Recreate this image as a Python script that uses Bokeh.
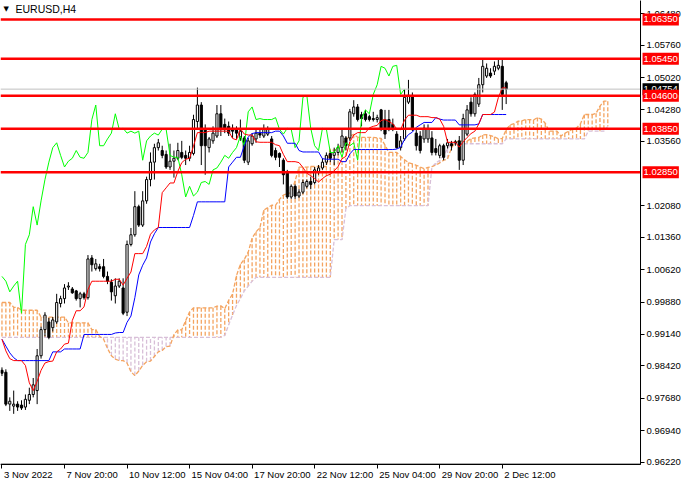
from bokeh.plotting import figure
from bokeh.models import Range1d, Label, FixedTicker, ColumnDataSource, NumeralTickFormatter
from bokeh.embed import file_html
from bokeh.resources import INLINE

# ---------------- data (EURUSD H4, bar 0 = 3 Nov 2022 04:00) ----------------
opens = [0.98321, 0.98276, 0.97546, 0.97501, 0.97546, 0.97524, 0.97479, 0.97634, 0.97767, 0.97856,
         0.98653, 0.99251, 0.99428, 0.99295, 0.99428, 0.99849, 0.99960, 1.00226, 1.00181, 1.00137,
         0.99960, 1.00070, 0.99982, 1.00890, 1.00646, 1.00691, 1.00691, 1.00469, 1.00336, 1.00026,
         1.00248, 1.00204, 0.99649, 1.01200, 1.01422, 1.02064, 1.01643, 1.02197, 1.02685, 1.03083,
         1.03415, 1.03349, 1.03260, 1.02972, 1.03105, 1.03172, 1.03305, 1.03238, 1.03172, 1.03282,
         1.04013, 1.04390, 1.03836, 1.03415, 1.03570, 1.03681, 1.04190, 1.03947, 1.03903, 1.03858,
         1.03836, 1.03637, 1.03637, 1.03083, 1.03504, 1.03614, 1.03747, 1.03681, 1.03725, 1.03614,
         1.03349, 1.03282, 1.03127, 1.02839, 1.02286, 1.02530, 1.02308, 1.02397, 1.02530, 1.02640,
         1.02618, 1.02862, 1.02950, 1.03083, 1.03282, 1.03238, 1.03305, 1.03415, 1.03637, 1.03637,
         1.04190, 1.04346, 1.04168, 1.04190, 1.04124, 1.04080, 1.04058, 1.04279, 1.04058, 1.04058,
         1.03947, 1.03725, 1.03415, 1.03614, 1.04456, 1.04611, 1.03747, 1.03681, 1.03614, 1.03614,
         1.03637, 1.03393, 1.03238, 1.03459, 1.03459, 1.03504, 1.03548, 1.03570, 1.03127, 1.03725,
         1.04456, 1.04190, 1.04412, 1.04855, 1.05054, 1.05121, 1.05165, 1.05232, 1.05276, 1.04899]

highs = [0.98387, 0.98343, 0.97701, 0.97856, 0.97612, 0.97634, 0.97767, 0.97922, 0.98144, 0.98808,
         0.99317, 0.99649, 0.99517, 0.99539, 1.00070, 1.00026, 1.00292, 1.00336, 1.00226, 1.00159,
         1.00115, 1.00115, 1.00957, 1.00957, 1.00868, 1.00757, 1.00868, 1.00580, 1.00403, 1.00425,
         1.00425, 1.00425, 1.01289, 1.01577, 1.02419, 1.02109, 1.02419, 1.02751, 1.03305, 1.03504,
         1.03614, 1.03459, 1.03349, 1.03504, 1.03349, 1.03526, 1.03570, 1.03349, 1.03459, 1.04168,
         1.04789, 1.04456, 1.03947, 1.03659, 1.03903, 1.04390, 1.04390, 1.04080, 1.04013, 1.03947,
         1.03903, 1.04058, 1.03681, 1.03637, 1.03747, 1.03836, 1.03836, 1.03947, 1.03903, 1.03681,
         1.03415, 1.03305, 1.03172, 1.02906, 1.02574, 1.02574, 1.02463, 1.02685, 1.02685, 1.02751,
         1.02972, 1.03017, 1.03172, 1.03305, 1.03349, 1.03415, 1.03504, 1.03858, 1.03681, 1.04301,
         1.04501, 1.04412, 1.04235, 1.04279, 1.04168, 1.04235, 1.04168, 1.04301, 1.04279, 1.04279,
         1.04080, 1.03792, 1.03681, 1.04744, 1.04966, 1.04678, 1.03858, 1.03792, 1.03947, 1.03947,
         1.03792, 1.03614, 1.03504, 1.03504, 1.03614, 1.03570, 1.03592, 1.03681, 1.04190, 1.04390,
         1.04567, 1.04678, 1.05010, 1.05440, 1.05342, 1.05232, 1.05387, 1.05440, 1.05440, 1.04944]

lows = [0.98188, 0.97501, 0.97391, 0.97324, 0.97391, 0.97413, 0.97413, 0.97546, 0.97701, 0.97546,
        0.98587, 0.99096, 0.99030, 0.99207, 0.99384, 0.99760, 0.99849, 1.00159, 1.00070, 0.99915,
        0.99760, 0.99938, 0.99938, 1.00580, 1.00602, 1.00580, 1.00425, 1.00292, 0.99915, 0.99849,
        1.00204, 0.99583, 0.99561, 1.01156, 1.01377, 1.01599, 1.01599, 1.02131, 1.02530, 1.02685,
        1.03349, 1.03172, 1.02928, 1.02906, 1.02729, 1.03127, 1.03150, 1.03017, 1.03105, 1.03238,
        1.03836, 1.03017, 1.02795, 1.03305, 1.03504, 1.03637, 1.03681, 1.03747, 1.03681, 1.03637,
        1.03614, 1.03570, 1.03061, 1.03017, 1.03459, 1.03526, 1.03637, 1.03637, 1.03681, 1.03194,
        1.03127, 1.02972, 1.02574, 1.02242, 1.02242, 1.02242, 1.02264, 1.02352, 1.02485, 1.02463,
        1.02574, 1.02795, 1.02906, 1.03017, 1.03083, 1.03017, 1.03238, 1.03305, 1.03349, 1.03570,
        1.04124, 1.04013, 1.03903, 1.04013, 1.04013, 1.04013, 1.03991, 1.03792, 1.03614, 1.03792,
        1.03792, 1.03393, 1.03349, 1.03570, 1.04412, 1.03792, 1.03349, 1.03282, 1.03526, 1.03526,
        1.03238, 1.03238, 1.03172, 1.03127, 1.03393, 1.03349, 1.03459, 1.02906, 1.03017, 1.03681,
        1.04124, 1.04124, 1.04346, 1.04678, 1.05010, 1.05010, 1.05077, 1.05187, 1.04279, 1.04412]

closes = [0.98254, 0.97546, 0.97612, 0.97546, 0.97479, 0.97457, 0.97656, 0.97767, 0.97988, 0.98653,
          0.99251, 0.99583, 0.99074, 0.99472, 0.99871, 0.99960, 1.00204, 1.00248, 1.00093, 0.99960,
          1.00070, 0.99982, 1.00868, 1.00735, 1.00757, 1.00646, 1.00469, 1.00359, 1.00115, 1.00248,
          1.00359, 0.99627, 1.01200, 1.01422, 1.02064, 1.01643, 1.02197, 1.02685, 1.03083, 1.03415,
          1.03526, 1.03238, 1.02972, 1.03105, 1.03172, 1.03349, 1.03194, 1.03172, 1.03305, 1.04058,
          1.04390, 1.03459, 1.03459, 1.03614, 1.03747, 1.04190, 1.03836, 1.03858, 1.03747, 1.03792,
          1.03747, 1.03792, 1.03127, 1.03570, 1.03681, 1.03747, 1.03703, 1.03836, 1.03836, 1.03238,
          1.03194, 1.03194, 1.02795, 1.02286, 1.02530, 1.02308, 1.02397, 1.02618, 1.02640, 1.02574,
          1.02906, 1.02950, 1.03083, 1.03238, 1.03172, 1.03305, 1.03415, 1.03681, 1.03459, 1.04235,
          1.04346, 1.04058, 1.04080, 1.04058, 1.04058, 1.04058, 1.04102, 1.03836, 1.03725, 1.03858,
          1.03836, 1.03415, 1.03570, 1.04567, 1.04611, 1.03858, 1.03459, 1.03349, 1.03858, 1.03836,
          1.03305, 1.03305, 1.03459, 1.03194, 1.03526, 1.03459, 1.03526, 1.03127, 1.04080, 1.04279,
          1.04190, 1.04633, 1.04855, 1.05276, 1.05232, 1.05054, 1.05276, 1.05298, 1.04633, 1.04754]

# Ichimoku values before enough visible history exists
tenkan_early = [0.99030, 0.98764, 0.98587, 0.98542, 0.98542, 0.98542, 0.98432, 0.98033]
kijun_early = [0.99030, 0.98874, 0.98719, 0.98609, 0.98542, 0.98542, 0.98542, 0.98542, 0.98542,
               0.98542, 0.98542, 0.98542, 0.98542, 0.98742, 0.98742, 0.98742, 0.98808, 0.98808,
               0.98808, 0.98808, 0.98808, 0.99140, 0.99140, 0.99140, 0.99140]
senkou_a_early = [0.99871, 0.99871, 0.99871, 0.99760, 0.99760, 0.99694, 0.99694, 0.99694, 0.99694,
                  0.99694, 0.99539, 0.99539, 0.99539, 0.99539, 0.99539, 0.99539, 0.99539, 0.99406,
                  0.99406, 0.99406, 0.99406, 0.99406, 0.99406, 0.99251, 0.99251, 0.99096]
senkou_b = [0.99074, 0.99074, 0.99074, 0.99074, 0.99074, 0.99074, 0.99074, 0.99074, 0.99074, 0.99074,
            0.99074, 0.99074, 0.99074, 0.99074, 0.99074, 0.99074, 0.99074, 0.99074, 0.99074, 0.99074,
            0.99074, 0.99074, 0.99074, 0.99074, 0.99074, 0.99074, 0.99074, 0.99074, 0.99074, 0.99074,
            0.99074, 0.99074, 0.99074, 0.99074, 0.99074, 0.99074, 0.99074, 0.99074, 0.99074, 0.99074,
            0.99074, 0.99074, 0.99074, 0.99074, 0.99074, 0.99074, 0.99074, 0.99074, 0.99074, 0.99074,
            0.99074, 0.99074, 0.99074, 0.99074, 0.99074, 0.99074, 0.99074, 0.99118, 0.99362, 0.99583,
            0.99805, 0.99960, 1.00137, 1.00248, 1.00359, 1.00447, 1.00447, 1.00447, 1.00447, 1.00447,
            1.00447, 1.00447, 1.00447, 1.00447, 1.00447, 1.00447, 1.00447, 1.00447, 1.00447, 1.00447,
            1.00447, 1.00447, 1.00447, 1.00447, 1.00447, 1.01311, 1.01311, 1.01311, 1.02020, 1.02086,
            1.02086, 1.02086, 1.02086, 1.02086, 1.02086, 1.02086, 1.02086, 1.02086, 1.02086, 1.02086,
            1.02086, 1.02086, 1.02086, 1.02086, 1.02086, 1.02086, 1.02086, 1.02086, 1.02086, 1.02086,
            1.02972, 1.03061, 1.03127, 1.03238, 1.03393, 1.03504, 1.03504, 1.03504, 1.03504, 1.03504,
            1.03504, 1.03504, 1.03504, 1.03504, 1.03504, 1.03504, 1.03504, 1.03504, 1.03504, 1.03614,
            1.03614, 1.03614, 1.03614, 1.03614, 1.03614, 1.03614, 1.03614, 1.03614, 1.03614, 1.03614,
            1.03614, 1.03614, 1.03614, 1.03614, 1.03614, 1.03614, 1.03614, 1.03614, 1.03614, 1.03614,
            1.03792, 1.03792, 1.03792, 1.03792, 1.03792, 1.03903]

levels = [1.06350, 1.05450, 1.04600, 1.03850, 1.02850]
bid_price = 1.04754
price_ticks = [1.06480, 1.05760, 1.05020, 1.04280, 1.03560, 1.02080, 1.01360, 1.00620,
               0.99880, 0.99140, 0.98420, 0.97680, 0.96940, 0.96220]
time_ticks = [0, 16, 32, 48, 64, 80, 96, 112, 128]
time_labels = ["3 Nov 2022", "7 Nov 20:00", "10 Nov 12:00", "15 Nov 04:00", "17 Nov 20:00",
               "22 Nov 12:00", "25 Nov 04:00", "29 Nov 20:00", "2 Dec 12:00"]
symbol_title = "EURUSD,H4"

# ---------------- indicator lines ----------------
n = len(closes)
xs = list(range(n))
tenkan, kijun = [], []
for i in range(n):
    if i < len(tenkan_early):
        tenkan.append(tenkan_early[i])
    else:
        tenkan.append((max(highs[i - 8:i + 1]) + min(lows[i - 8:i + 1])) / 2)
    if i < len(kijun_early):
        kijun.append(kijun_early[i])
    else:
        kijun.append((max(highs[i - 25:i + 1]) + min(lows[i - 25:i + 1])) / 2)
senkou_a = senkou_a_early + [(t + k) / 2 for t, k in zip(tenkan, kijun)]
cloud_x = list(range(len(senkou_b)))

FONT = "Liberation Sans"
SANDY = "#F4A460"
THISTLE = "#D8BFD8"

# chart area (price pane) limits; the page area beyond holds the scale texts
x_start, x_axis_at, x_page_end = -0.375, 163.375, 174.625
y_axis_at, y_top, y_page_bottom = 0.96172, 1.06782, 0.95707

p = figure(width=684, height=484, output_backend="svg", toolbar_location=None,
           x_range=Range1d(x_start, x_page_end), y_range=Range1d(y_page_bottom, y_top),
           y_axis_location="right", min_border_left=0, min_border_top=0,
           min_border_right=0, min_border_bottom=0)
p.outline_line_color = None
p.grid.visible = False
p.background_fill_color = "white"
p.border_fill_color = "white"

# cloud
cloud = ColumnDataSource(dict(
    x=cloud_x, a=senkou_a, b=senkou_b,
    c=[SANDY if a >= b else THISTLE for a, b in zip(senkou_a, senkou_b)]))
p.segment(x0="x", y0="a", x1="x", y1="b", line_color="c", line_width=1.3,
          line_dash="4 2", source=cloud)
p.line(cloud_x, senkou_b, line_color=THISTLE, line_width=1.3, line_dash="4 2")
p.line(cloud_x, senkou_a, line_color=SANDY, line_width=1.3, line_dash="4 2")

# candles
candles = ColumnDataSource(dict(
    x=xs, high=highs, low=lows,
    top=[max(o, c) for o, c in zip(opens, closes)],
    bottom=[min(o, c) for o, c in zip(opens, closes)],
    fill=["white" if c >= o else "black" for o, c in zip(opens, closes)]))
p.segment(x0="x", y0="low", x1="x", y1="high", line_color="black", line_width=1, source=candles)
p.vbar(x="x", width=0.55, top="top", bottom="bottom", fill_color="fill",
       line_color="black", line_width=1, source=candles)

# ichimoku lines
p.line(xs[:n - 26], closes[26:], line_color="#00FF00", line_width=1)
p.line(xs, kijun, line_color="#0000FF", line_width=1)
p.line(xs, tenkan, line_color="#FF0000", line_width=1)

# bid line and horizontal levels (across the price pane only)
p.segment(x0=[x_start], y0=[bid_price], x1=[x_axis_at], y1=[bid_price],
          line_color="#C0C0C0", line_width=1)
p.segment(x0=[x_start] * len(levels), y0=levels, x1=[x_axis_at] * len(levels), y1=levels,
          line_color="#FF0000", line_width=2.5)

# axes, pinned at the edges of the price pane
ya = p.yaxis[0]
ya.fixed_location = x_axis_at
ya.bounds = (y_axis_at, y_top)
ya.ticker = FixedTicker(ticks=price_ticks)
ya.formatter = NumeralTickFormatter(format="0.00000")
ya.major_tick_out = 4
ya.major_tick_in = 0
ya.minor_tick_out = 0
ya.minor_tick_in = 0
ya.major_label_standoff = 2
ya.major_label_text_font = FONT
ya.major_label_text_font_size = "9.5px"
ya.major_label_text_color = "black"
ya.axis_line_color = "black"
ya.major_tick_line_color = "black"

xa = p.xaxis[0]
xa.fixed_location = y_axis_at
xa.bounds = (x_start, x_axis_at)
xa.ticker = FixedTicker(ticks=time_ticks)
xa.major_label_overrides = {t: "" for t in time_ticks}
xa.major_tick_out = 4
xa.major_tick_in = 0
xa.minor_tick_out = 0
xa.minor_tick_in = 0
xa.axis_line_color = "black"
xa.major_tick_line_color = "black"

# frame lines of the price pane (right and bottom)
p.segment(x0=[x_axis_at, x_start], y0=[y_axis_at, y_axis_at], x1=[x_axis_at, x_axis_at],
          y1=[y_top, y_axis_at], line_color="black", line_width=1)

for t, lab in zip(time_ticks, time_labels):
    p.add_layout(Label(x=t, y=y_axis_at, x_offset=2, y_offset=-5,
                       text=lab, text_align="left", text_baseline="top",
                       text_font=FONT, text_font_size="9.5px", text_color="black"))

# price boxes on the right scale
p.add_layout(Label(x=x_axis_at, y=bid_price, x_offset=2, text=f"{bid_price:.5f}",
                   text_align="left", text_baseline="middle", text_color="white",
                   background_fill_color="black", padding=(1, 3),
                   text_font=FONT, text_font_size="9.5px"))
for lv in levels:
    p.add_layout(Label(x=x_axis_at, y=lv, x_offset=2, text=f"{lv:.5f}",
                       text_align="left", text_baseline="middle", text_color="white",
                       background_fill_color="#FF0000", padding=(1, 3),
                       text_font=FONT, text_font_size="9.5px"))

# title
p.add_layout(Label(x=x_start, y=y_top, x_offset=3, y_offset=-4, text="\u25BC",
                   text_align="left", text_baseline="top", text_font="DejaVu Sans",
                   text_font_size="7px", text_color="black"))
p.add_layout(Label(x=x_start, y=y_top, x_offset=15, y_offset=-2, text=symbol_title,
                   text_align="left", text_baseline="top", text_font=FONT,
                   text_font_size="10.5px", text_color="black"))

open("out.html", "w").write(file_html(p, INLINE))
